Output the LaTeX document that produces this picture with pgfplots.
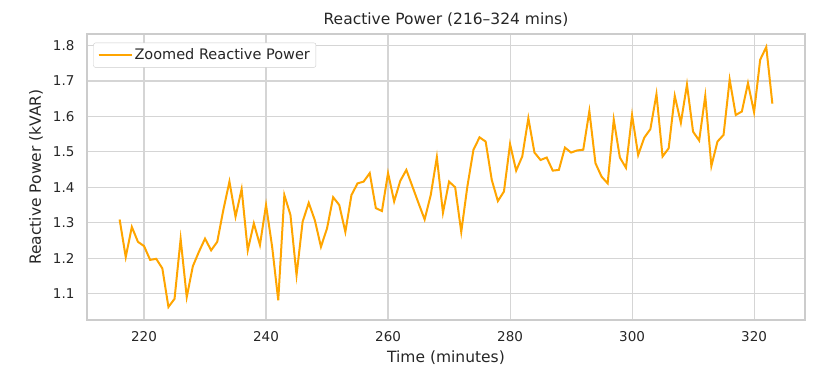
\documentclass[border=0pt]{standalone}
\usepackage{pgfplots}
\pgfplotsset{compat=1.18}
\usepackage{fontspec}
\setmainfont{DejaVu Sans}
\definecolor{txt}{HTML}{262626}
\definecolor{grd}{HTML}{D5D5D5}
\definecolor{edge}{HTML}{CCCCCC}
\definecolor{orng}{HTML}{FFA500}
\begin{document}
\begin{tikzpicture}
\begin{axis}[
  scale only axis,
  width=718pt, height=286pt,
  xmin=210.65, xmax=328.35,
  ymin=1.0253, ymax=1.8327,
  xtick={220,240,...,320},
  ytick={1.1,1.2,...,1.81},
  /pgf/number format/assume math mode=true,
  yticklabel style={/pgf/number format/fixed, /pgf/number format/fixed zerofill, /pgf/number format/precision=1, xshift=-9pt},
  major tick length=0pt,
  grid=major,
  major grid style={draw=grd, line width=1.1pt},
  axis line style={draw=edge, line width=1.1pt},
  tick label style={font=\fontsize{13.5}{15}\selectfont, text=txt},
  xticklabel style={yshift=-8pt},
  label style={font=\fontsize{15.5}{18}\selectfont, text=txt},
  xlabel={Time (minutes)},
  ylabel={Reactive Power (kVAR)},
  xlabel style={at={(axis description cs:0.5,-0.1329)}, anchor=center},
  ylabel style={at={(axis description cs:-0.071,0.5)}, anchor=center, rotate=0},
  title={Reactive Power (216--324 mins)},
  title style={at={(axis description cs:0.5,1.03)}, anchor=center, font=\fontsize{15.5}{18}\selectfont, text=txt},
  legend style={at={(axis description cs:0.0088,0.9696)}, anchor=north west,
    draw=edge, rounded corners=2pt, fill=white, inner xsep=4pt, inner ysep=4pt,
    font=\fontsize{14.5}{17}\selectfont, text=txt},
  legend cell align=left,
  legend image code/.code={\path (0pt,0pt) -- (33pt,0pt);\draw[#1] (0pt,0pt) -- (29pt,0pt);},
]
\addplot[color=orng, line width=2pt, mark=none] table {
x y
216 1.309
217 1.203
218 1.288
219 1.246
220 1.234
221 1.195
222 1.198
223 1.171
224 1.062
225 1.085
226 1.254
227 1.090
228 1.177
229 1.218
230 1.255
231 1.222
232 1.246
233 1.336
234 1.416
235 1.317
236 1.395
237 1.222
238 1.298
239 1.237
240 1.350
241 1.232
242 1.081
243 1.378
244 1.322
245 1.152
246 1.303
247 1.356
248 1.307
249 1.232
250 1.284
251 1.372
252 1.350
253 1.274
254 1.378
255 1.411
256 1.416
257 1.440
258 1.341
259 1.333
260 1.440
261 1.360
262 1.418
263 1.449
264 1.402
265 1.355
266 1.309
267 1.378
268 1.485
269 1.328
270 1.416
271 1.400
272 1.274
273 1.402
274 1.506
275 1.541
276 1.529
277 1.421
278 1.361
279 1.388
280 1.522
281 1.447
282 1.487
283 1.595
284 1.498
285 1.477
286 1.484
287 1.447
288 1.449
289 1.512
290 1.498
291 1.504
292 1.506
293 1.615
294 1.468
295 1.430
296 1.411
297 1.591
298 1.484
299 1.455
300 1.604
301 1.491
302 1.540
303 1.564
304 1.663
305 1.487
306 1.510
307 1.658
308 1.582
309 1.690
310 1.557
311 1.532
312 1.658
313 1.460
314 1.529
315 1.548
316 1.704
317 1.604
318 1.614
319 1.694
320 1.612
321 1.760
322 1.796
323 1.636
};
\addlegendentry{Zoomed Reactive Power}
\end{axis}
\pgfresetboundingbox
\path[use as bounding box] (-87pt,-65pt) rectangle (735pt,320pt);
\end{tikzpicture}
\end{document}
